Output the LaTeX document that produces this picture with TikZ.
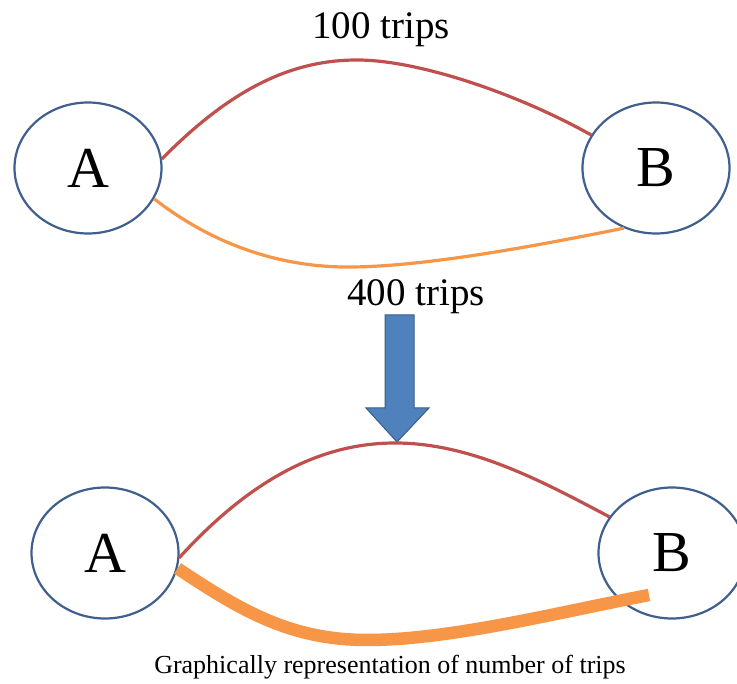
\documentclass[tikz,border=0pt]{standalone}
\usepackage{fontspec}
\setmainfont{Liberation Serif}
\usetikzlibrary{shapes.geometric}
\definecolor{ellblue}{HTML}{3F5F8F}
\definecolor{linered}{HTML}{C0504D}
\definecolor{lineorange}{HTML}{F79646}
\definecolor{arrowfill}{HTML}{4F81BD}
\definecolor{arrowedge}{HTML}{385D8A}
\begin{document}
\begin{tikzpicture}[x=1pt,y=-1pt,
  place/.style={ellipse, draw=ellblue, line width=2.2pt, minimum width=147pt, minimum height=131pt, inner sep=0pt, font=\fontsize{58}{58}\selectfont},
  redline/.style={linered, line width=3.2pt},
  orangeline/.style={lineorange, line width=3.2pt},
  thickorange/.style={lineorange, line width=12.5pt, line cap=butt},
  lbl/.style={font=\fontsize{39}{39}\selectfont, inner sep=0pt}]
\useasboundingbox (0,0) rectangle (737,684);
\clip (0,0) rectangle (737,684);
\fill[white] (0,0) rectangle (737,684);

% top diagram
\node[place] (A1) at (88,168) {A};
\node[place] (B1) at (656,168) {B};
\node[lbl] (t100) at (381,30) {100 trips};
\node[lbl] (t400) at (416,297) {400 trips};
\coordinate (p1) at (357,60);
\coordinate (q1) at (353,267);
\draw[redline] (A1.7) .. controls (230,90) and (290,60) .. (p1)
  .. controls (420,60) and (520,95) .. (B1.153);
\draw[orangeline] (A1.-25) .. controls (220,250) and (290,268) .. (q1)
  .. controls (430,266) and (540,245) .. (B1.-118);

% arrow
\filldraw[fill=arrowfill, draw=arrowedge, line width=1pt, line join=miter]
  (385,315) -- (414,315) -- (414,408) -- (429,408) -- (397,442) -- (366,408) -- (385,408) -- cycle;

% bottom diagram
\node[place] (A2) at (105,553) {A};
\node[place] (B2) at (672,553) {B};
\coordinate (p2) at (395,443);
\coordinate (q2) at (367,640);
\draw[redline] (179,558) .. controls (250,480) and (320,443) .. (p2)
  .. controls (470,443) and (540,480) .. (B2.150);
\draw[thickorange] (A2.-12) .. controls (240,610) and (290,640) .. (q2)
  .. controls (450,640) and (560,612) .. (649,595);
\node[font=\fontsize{26}{26}\selectfont, inner sep=0pt] (cap) at (390,667) {Graphically representation of number of trips};
\end{tikzpicture}
\end{document}
